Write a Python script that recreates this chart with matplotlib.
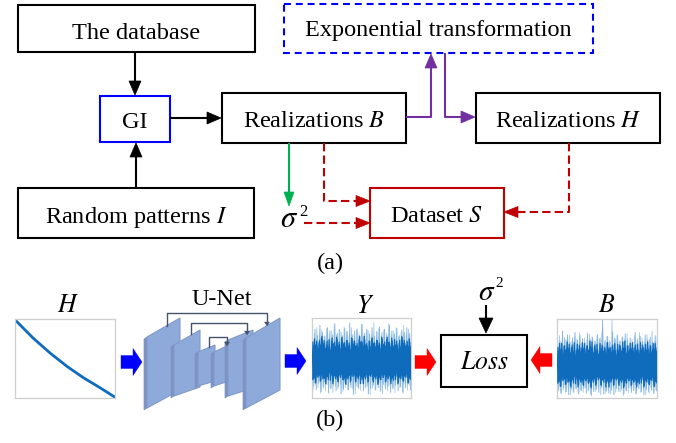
import matplotlib
matplotlib.use("Agg")
import matplotlib.pyplot as plt
from matplotlib.patches import Rectangle, Polygon
import numpy as np

plt.rcParams['font.family'] = ['Liberation Serif', 'DejaVu Serif']
plt.rcParams['mathtext.fontset'] = 'stix'
plt.rcParams['lines.scale_dashes'] = False

# ---- signal data -------------------------------------------------------
# H: decaying curve (fraction of panel width / height)
h_x = [0.0, 0.18, 0.35, 0.52, 0.68, 0.85, 1.0]
h_y = [0.99, 0.76, 0.57, 0.40, 0.26, 0.13, 0.01]

# Y: network output, dense core envelope and light outlying peaks
y_core_hi = [0.70, 0.74, 0.66, 0.72, 0.77, 0.68, 0.71, 0.65, 0.75, 0.70,
             0.73, 0.67, 0.76, 0.69, 0.72, 0.66, 0.74, 0.71, 0.68, 0.77,
             0.70, 0.73, 0.65, 0.71, 0.75, 0.69, 0.72, 0.67, 0.74, 0.70,
             0.76, 0.68, 0.71, 0.73, 0.66, 0.72, 0.75, 0.69, 0.71, 0.70]
y_core_lo = [0.24, 0.19, 0.27, 0.22, 0.25, 0.18, 0.23, 0.28, 0.21, 0.24,
             0.20, 0.26, 0.23, 0.17, 0.25, 0.22, 0.28, 0.20, 0.24, 0.23,
             0.18, 0.26, 0.21, 0.27, 0.20, 0.24, 0.19, 0.23, 0.26, 0.21,
             0.25, 0.18, 0.22, 0.27, 0.20, 0.24, 0.21, 0.26, 0.19, 0.23]
y_peak_hi = [0.80, 0.86, 0.78, 0.91, 0.82, 0.77, 0.88, 0.84, 0.79, 0.93,
             0.81, 0.85, 0.78, 0.87, 0.83, 0.94, 0.79, 0.84, 0.86, 0.78,
             0.92, 0.81, 0.85, 0.80, 0.88, 0.77, 0.83, 0.89, 0.82, 0.86,
             0.79, 0.91, 0.84, 0.80, 0.87, 0.78, 0.85, 0.82, 0.88, 0.81]
y_peak_lo = [0.15, 0.10, 0.18, 0.08, 0.13, 0.17, 0.06, 0.12, 0.16, 0.09,
             0.14, 0.05, 0.11, 0.17, 0.10, 0.13, 0.04, 0.15, 0.12, 0.18,
             0.09, 0.14, 0.05, 0.12, 0.16, 0.10, 0.13, 0.08, 0.17, 0.11,
             0.15, 0.07, 0.12, 0.16, 0.09, 0.14, 0.06, 0.13, 0.17, 0.10]

# B: measured realization
b_core_hi = [0.64, 0.69, 0.61, 0.66, 0.71, 0.63, 0.67, 0.60, 0.68, 0.64,
             0.70, 0.62, 0.66, 0.72, 0.63, 0.67, 0.61, 0.69, 0.65, 0.62,
             0.70, 0.64, 0.67, 0.60, 0.68, 0.65, 0.71, 0.62, 0.66, 0.69,
             0.63, 0.67, 0.61, 0.70, 0.64, 0.68, 0.62, 0.66, 0.69, 0.64]
b_core_lo = [0.20, 0.15, 0.23, 0.18, 0.21, 0.14, 0.19, 0.24, 0.17, 0.20,
             0.16, 0.22, 0.19, 0.13, 0.21, 0.18, 0.24, 0.16, 0.20, 0.19,
             0.14, 0.22, 0.17, 0.23, 0.16, 0.20, 0.15, 0.19, 0.22, 0.17,
             0.21, 0.14, 0.18, 0.23, 0.16, 0.20, 0.17, 0.22, 0.15, 0.19]
b_peak_hi = [0.78, 0.72, 0.85, 0.74, 0.80, 0.71, 0.76, 0.83, 0.73, 0.79,
             0.75, 0.70, 0.82, 0.74, 0.77, 0.72, 0.80, 0.76, 0.99, 0.73,
             0.78, 0.71, 0.84, 0.75, 0.79, 0.72, 0.77, 0.81, 0.74, 0.76,
             0.70, 0.83, 0.75, 0.78, 0.72, 0.80, 0.74, 0.77, 0.71, 0.79]
b_peak_lo = [0.10, 0.06, 0.13, 0.08, 0.04, 0.11, 0.07, 0.12, 0.05, 0.09,
             0.12, 0.06, 0.10, 0.03, 0.08, 0.11, 0.07, 0.13, 0.05, 0.09,
             0.06, 0.10, 0.04, 0.12, 0.08, 0.11, 0.05, 0.09, 0.13, 0.07,
             0.10, 0.06, 0.12, 0.08, 0.04, 0.11, 0.07, 0.10, 0.06, 0.09]

# ---- colours -----------------------------------------------------------
BLACK = '#000000'
BLUE = '#0000ff'
PURPLE = '#7030a0'
GREEN = '#00b050'
DRED = '#c00000'
RED = '#ff0000'
SIG = '#0f6cbd'
SIG_LIGHT = '#7fb2e0'

W, H = 676, 443
fig = plt.figure(figsize=(W / 100, H / 100), dpi=100)
ax = fig.add_axes([0, 0, 1, 1])
ax.set_xlim(0, W)
ax.set_ylim(H, 0)
ax.axis('off')

FS = 17.5


def box(x0, y0, x1, y1, ec=BLACK, lw=1.5, ls='-'):
    ax.add_patch(Rectangle((x0, y0), x1 - x0, y1 - y0, fill=False,
                           ec=ec, lw=lw, ls=ls, zorder=2))


def head(tx, ty, d, color, length=14, width=12):
    # d: direction of the tip ('u', 'd', 'l', 'r')
    hw = width / 2
    if d == 'd':
        pts = [(tx, ty), (tx - hw, ty - length), (tx + hw, ty - length)]
    elif d == 'u':
        pts = [(tx, ty), (tx - hw, ty + length), (tx + hw, ty + length)]
    elif d == 'r':
        pts = [(tx, ty), (tx - length, ty - hw), (tx - length, ty + hw)]
    else:
        pts = [(tx, ty), (tx + length, ty - hw), (tx + length, ty + hw)]
    ax.add_patch(Polygon(pts, closed=True, fc=color, ec=color, lw=0.5, zorder=3))


def path_arrow(pts, color, d, lw=1.5, ls='-', length=14, width=12):
    xs = [p[0] for p in pts]
    ys = [p[1] for p in pts]
    tx, ty = xs[-1], ys[-1]
    # stop the shaft where the head begins
    off = {'d': (0, -length), 'u': (0, length), 'r': (-length, 0), 'l': (length, 0)}[d]
    xs[-1] = tx + off[0] * 0.8
    ys[-1] = ty + off[1] * 0.8
    ax.plot(xs, ys, color=color, lw=lw, ls=ls, solid_capstyle='butt',
            dash_capstyle='butt', zorder=2)
    head(tx, ty, d, color, length, width)


def block_arrow(x_tail, x_tip, yc, color, head_len=9, shaft_h=13, head_h=27):
    s = 1 if x_tip > x_tail else -1
    xb = x_tip - s * head_len
    hs, hh = shaft_h / 2, head_h / 2
    pts = [(x_tail, yc - hs), (xb, yc - hs), (xb, yc - hh), (x_tip, yc),
           (xb, yc + hh), (xb, yc + hs), (x_tail, yc + hs)]
    ax.add_patch(Polygon(pts, closed=True, fc=color, ec=color, lw=0.3, zorder=3))


def sigma2(x, y, fs_sigma, fs_two, dx2, dy2):
    ax.text(x, y, r'$\sigma$', fontsize=fs_sigma, ha='center', va='baseline')
    ax.text(x + dx2, y - dy2, '2', fontsize=fs_two, ha='center', va='baseline')


# ---------------- (a) workflow -------------------------------------------
box(18, 5, 255, 52)
ax.text(136, 39, 'The database', fontsize=FS, ha='center', va='baseline')

box(100, 96, 170, 142, ec=BLUE)
ax.text(135, 128, 'GI', fontsize=FS, ha='center', va='baseline')

box(222, 93, 406, 143)
ax.text(314, 127, r'Realizations $B$', fontsize=FS, ha='center', va='baseline')

box(284, 4, 593, 53, ec=BLUE, ls=(0, (5, 3.5)))
ax.text(438, 36, 'Exponential transformation', fontsize=FS, ha='center', va='baseline')

box(476, 93, 660, 143)
ax.text(568, 127, r'Realizations $H$', fontsize=FS, ha='center', va='baseline')

box(18, 188, 254, 238)
ax.text(136, 223, r'Random patterns $I$', fontsize=FS, ha='center', va='baseline')

box(370, 188, 504, 238, ec=DRED)
ax.text(437, 222, r'Dataset $S$', fontsize=FS, ha='center', va='baseline')

sigma2(289, 227, 22, 12, 14, 11)
ax.text(330, 263, '(a)', fontsize=FS, ha='center', va='center')

# black arrows
path_arrow([(135, 52), (135, 95)], BLACK, 'd')
path_arrow([(170, 118), (221, 118)], BLACK, 'r')
path_arrow([(136, 188), (136, 143)], BLACK, 'u')

# purple: B -> exponential transformation -> H
path_arrow([(406, 117), (431, 117), (431, 54)], PURPLE, 'u')
path_arrow([(445, 53), (445, 117), (475, 117)], PURPLE, 'r')

# green: B -> sigma^2
path_arrow([(289, 143), (289, 206)], GREEN, 'd', length=14, width=10)

# dark red dashed arrows into the dataset
dash = (0, (6, 3))
path_arrow([(324, 143), (324, 201), (370, 201)], DRED, 'r', ls=dash, length=14, width=11)
path_arrow([(304, 223), (370, 223)], DRED, 'r', ls=dash, length=14, width=11)
path_arrow([(569, 143), (569, 212), (504, 212)], DRED, 'l', ls=dash, length=14, width=11)


# ---------------- (b) training scheme ------------------------------------
def signal_axes(x0, y0, x1, y1):
    a = fig.add_axes([x0 / W, 1 - y1 / H, (x1 - x0) / W, (y1 - y0) / H])
    a.set_xlim(0, 1)
    a.set_ylim(0, 1)
    a.set_xticks([])
    a.set_yticks([])
    for sp in a.spines.values():
        sp.set_color('#cfcfcf')
        sp.set_linewidth(0.9)
    return a


def noise(a, core_hi, core_lo, peak_hi, peak_lo):
    # light outliers: zig-zag trace alternating between upper and lower peaks
    n = len(peak_hi)
    xp = np.linspace(0.005, 0.995, 2 * n)
    trace = np.empty(2 * n)
    trace[0::2] = peak_hi
    trace[1::2] = peak_lo
    a.plot(xp, trace, color=SIG_LIGHT, lw=0.6, zorder=1)
    trace2 = np.empty(2 * n)
    trace2[0::2] = peak_lo[::-1]
    trace2[1::2] = peak_hi[::-1]
    a.plot(xp + 0.006, trace2, color=SIG_LIGHT, lw=0.5, alpha=0.8, zorder=1)
    # dense core: zig-zag between the core envelopes over a solid band
    m = len(core_hi)
    xc = np.linspace(0, 1, m)
    a.fill_between(xc, np.array(core_lo) + 0.05, np.array(core_hi) - 0.05,
                   color=SIG, lw=0, zorder=2)
    xz = np.linspace(0, 1, 2 * m)
    zz = np.empty(2 * m)
    zz[0::2] = core_hi
    zz[1::2] = core_lo
    a.plot(xz, zz, color=SIG, lw=0.9, zorder=3)
    zz2 = np.empty(2 * m)
    zz2[0::2] = core_lo[::-1]
    zz2[1::2] = core_hi[::-1]
    a.plot(xz + 0.008, zz2, color=SIG, lw=0.9, zorder=3)


ah = signal_axes(15, 319, 115, 398)
ah.plot(h_x, h_y, color=SIG, lw=2)
ax.text(68, 312, r'$H$', fontsize=FS + 1, ha='center', va='baseline')

ay = signal_axes(312, 318, 411, 398)
noise(ay, y_core_hi, y_core_lo, y_peak_hi, y_peak_lo)
ax.text(365, 313, r'$Y$', fontsize=FS + 1, ha='center', va='baseline')

ab = signal_axes(557, 319, 657, 398)
noise(ab, b_core_hi, b_core_lo, b_peak_hi, b_peak_lo)
ax.text(607, 312, r'$B$', fontsize=FS + 1, ha='center', va='baseline')

# U-Net layers drawn as slanted plates
plates = [
    [(147, 337), (180, 318), (180, 390), (147, 408)],
    [(174, 345), (200, 330), (200, 387), (174, 396)],
    [(198, 352), (215, 345), (215, 381), (198, 386)],
    [(214, 352), (229, 345), (229, 381), (214, 386)],
    [(228, 340), (253, 330), (253, 388), (228, 396)],
    [(246, 338), (280, 318), (280, 390), (246, 408)],
]
for p in plates:
    side = [(p[0][0] - 3, p[0][1] + 2), p[0], p[3], (p[3][0] - 3, p[3][1] + 2)]
    ax.add_patch(Polygon(side, closed=True, fc='#7d94c2', ec='#7d94c2', lw=0.5, zorder=4))
    ax.add_patch(Polygon(p, closed=True, fc='#8eaadb', ec='#8199c8', lw=0.8, zorder=4))

SK = '#44546a'
skips = [(167, 326, 313, 267, 326), (191, 334, 323, 247, 335), (209, 347, 337, 227, 346)]
for xa, ya, ytop, xb, yb in skips:
    ax.plot([xa, xa, xb, xb], [ya, ytop, ytop, yb - 3], color=SK, lw=1.0, zorder=5)
    ax.add_patch(Polygon([(xb, yb), (xb - 2.5, yb - 4), (xb + 2.5, yb - 4)],
                         closed=True, fc=SK, ec=SK, lw=0.3, zorder=5))
ax.text(222, 305, 'U-Net', fontsize=FS, ha='center', va='baseline')

block_arrow(121, 142, 362, BLUE)
block_arrow(285, 306, 361, BLUE)
block_arrow(415, 436, 362, RED)
block_arrow(552, 531, 360, RED)

box(441, 335, 527, 387)
ax.text(484, 369, r'$Loss$', fontsize=FS + 1, ha='center', va='baseline')
sigma2(487, 300, 21, 11, 12, 13)
path_arrow([(486, 305), (486, 333)], BLACK, 'd', length=15, width=14)

ax.text(330, 420, '(b)', fontsize=FS, ha='center', va='center')

fig.savefig('out.png', dpi=100)
